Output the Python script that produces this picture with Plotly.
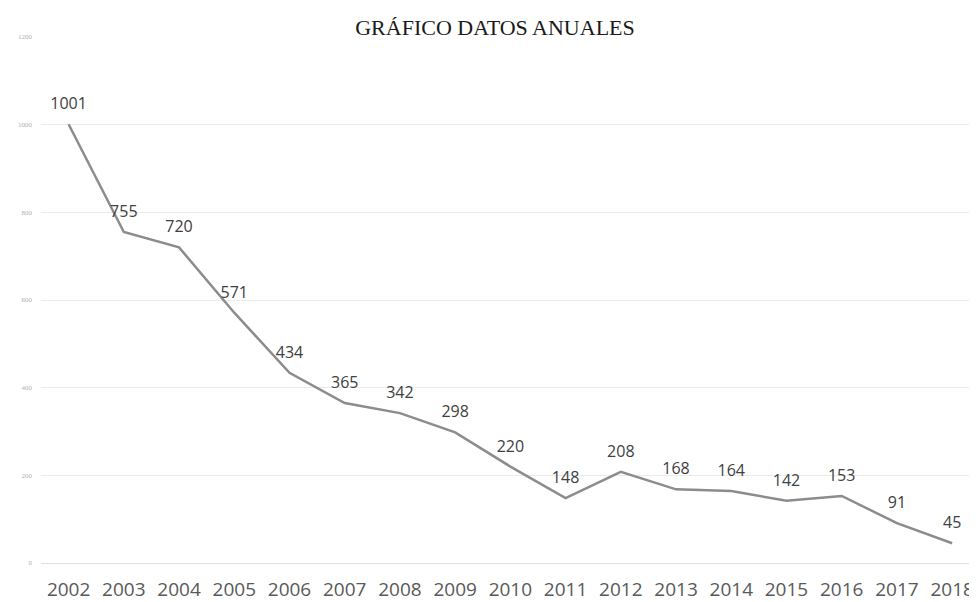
import plotly.graph_objects as go

years = ["2002", "2003", "2004", "2005", "2006", "2007", "2008", "2009", "2010",
         "2011", "2012", "2013", "2014", "2015", "2016", "2017", "2018"]
values = [1001, 755, 720, 571, 434, 365, 342, 298, 220, 148, 208, 168, 164, 142, 153, 91, 45]
y_ticks = [0, 200, 400, 600, 800, 1000, 1200]

x_idx = list(range(len(years)))

W, H = 969, 594

fig = go.Figure()
fig.add_trace(go.Scatter(
    x=x_idx, y=values,
    mode="lines+markers+text",
    line=dict(color="#8c8c8c", width=2.5),
    marker=dict(size=16, color="rgba(0,0,0,0)"),
    text=[str(v) for v in values],
    textposition="top center",
    textfont=dict(family="Open Sans, sans-serif", size=16, color="#404040"),
    cliponaxis=False,
    hoverinfo="skip",
))

fig.update_layout(
    width=W, height=H,
    margin=dict(l=33, r=0, t=29, b=39),
    paper_bgcolor="white", plot_bgcolor="white",
    showlegend=False,
    title=dict(text="GRÁFICO DATOS ANUALES", x=487/W, xanchor="center",
               y=1 - 19/H, yanchor="middle",
               font=dict(family="Liberation Serif, serif", size=22, color="#1a1a1a")),
)
fig.update_xaxes(
    range=[-0.5, 16.45],
    tickmode="array", tickvals=x_idx, ticktext=years,
    showgrid=False, zeroline=False, showline=False,
    tickfont=dict(family="Open Sans, sans-serif", size=19, color="#595959"),
    ticklabelstandoff=13,
    automargin=False,
)
fig.update_yaxes(
    range=[0, 1200],
    tickmode="array", tickvals=y_ticks,
    showgrid=True, gridcolor="#ebebeb", gridwidth=1,
    zeroline=True, zerolinecolor="#e0e0e0", zerolinewidth=1,
    tickfont=dict(family="Liberation Serif, serif", size=7, color="#b0b0b0"),
    ticklabelstandoff=8,
    automargin=False,
)

fig.write_html("out.html")
